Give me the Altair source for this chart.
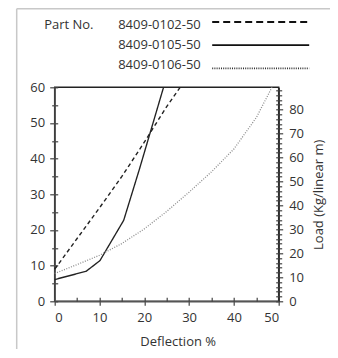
import altair as alt
import pandas as pd

# ---- data ----
parts = ["8409-0102-50", "8409-0105-50", "8409-0106-50"]
x_0102 = [0, 5, 10, 15, 20, 25, 28]
y_0102 = [9.0, 17.6, 26.2, 35.0, 44.6, 54.6, 60.0]
x_0105 = [0, 7.0, 10.1, 15.4, 18.9, 24.3]
y_0105 = [6.1, 8.4, 11.4, 22.7, 37.0, 60.0]
x_0106 = [0, 5, 10, 15, 20, 25, 30, 35, 40, 45, 48.5]
y_0106 = [7.8, 10.3, 12.9, 16.2, 20.3, 25.2, 30.6, 36.3, 42.7, 51.5, 60.0]

x_ticks = list(range(0, 51, 5))
left_ticks = list(range(0, 61, 5))
right_ticks = list(range(0, 90, 2))
kg_max = 89.3
legend_title = "Part No."
x_title = "Deflection %"
right_title = "Load (Kg/linear m)"

FONT = "Open Sans"
TXT = "#333333"
W, H = 224, 214

rows = []
for p, xs, ys in zip(parts, [x_0102, x_0105, x_0106], [y_0102, y_0105, y_0106]):
    for xv, yv in zip(xs, ys):
        rows.append({"part": p, "x": xv, "y": yv})
df = pd.DataFrame(rows)

xscale = alt.Scale(domain=[0, 50], nice=False, zero=False)
yscale = alt.Scale(domain=[0, 60], nice=False)
kgscale = alt.Scale(domain=[0, kg_max], nice=False)

dash_scale = alt.Scale(domain=parts, range=[[4, 3], [1, 0], [1, 1.5]])
col_scale = alt.Scale(domain=parts, range=["#222222", "#222222", "#8c8c8c"])
wid_scale = alt.Scale(domain=parts, range=[1.4, 1.3, 1.1])

lab10 = "datum.value % 10 === 0 ? datum.label : ''"
maj = "datum.value % 10 === 0"

base_axis = dict(labelFont=FONT, labelFontSize=13, labelColor=TXT, titleFont=FONT,
                 titleFontSize=13, titleFontWeight="normal", titleColor=TXT,
                 tickColor="#444444", tickWidth=1.2, grid=False)

lines = alt.Chart(df).mark_line().encode(
    x=alt.X("x:Q", scale=xscale, axis=alt.Axis(
        orient="bottom", values=x_ticks, labelExpr=lab10,
        tickSize={"condition": {"test": maj, "value": 4}, "value": 0},
        labelPadding=6, title=x_title, titleX=123, titleY=40,
        titleAlign="center", titleBaseline="middle",
        domainColor="#555555", domainWidth=1.5, **base_axis)),
    y=alt.Y("y:Q", scale=yscale, axis=alt.Axis(
        orient="left", values=left_ticks, labelExpr=lab10,
        tickSize={"condition": {"test": maj, "value": 5}, "value": 3},
        labelPadding=5, title=None,
        domainColor="#555555", domainWidth=1.5, **base_axis)),
    strokeDash=alt.StrokeDash("part:N", scale=dash_scale, legend=None),
    color=alt.Color("part:N", scale=col_scale, legend=None),
    strokeWidth=alt.StrokeWidth("part:N", scale=wid_scale, legend=None),
)

inner = alt.Chart(df).mark_line(opacity=0).encode(
    x=alt.X("x:Q", scale=xscale, axis=alt.Axis(
        orient="bottom", offset=-4, values=x_ticks, tickSize=4, labels=False,
        domain=False, title=None, **base_axis)),
    y=alt.Y("y:Q", scale=yscale, axis=alt.Axis(
        orient="left", offset=-3, values=left_ticks, tickSize=3, labels=False,
        domain=False, title=None, **base_axis)),
    detail="part:N",
)

right_out = alt.Chart(df).mark_rule(opacity=0).encode(
    y=alt.Y("y:Q", scale=kgscale, axis=alt.Axis(
        orient="right", values=right_ticks, labelExpr=lab10,
        tickSize={"condition": {"test": maj, "value": 4}, "value": 3},
        labelPadding=6, title=right_title, titleAngle=270,
        titleX=40, titleY=107, titleAlign="center", titleBaseline="middle",
        domainColor="#333333", domainWidth=1.5, **base_axis)),
)

right_in = alt.Chart(df).mark_rule(opacity=0).encode(
    y=alt.Y("y:Q", scale=kgscale, axis=alt.Axis(
        orient="right", offset=-3, values=right_ticks, tickSize=3, labels=False,
        domain=False, title=None, **base_axis)),
)

frame_df = pd.DataFrame({"k": [0]})
frame_top = alt.Chart(frame_df).mark_rule(color="#c8c8c8", strokeWidth=1.5).encode(
    x=alt.value(-38), x2=alt.value(290), y=alt.value(-78.5))
frame_left = alt.Chart(frame_df).mark_rule(color="#c8c8c8", strokeWidth=1.5).encode(
    x=alt.value(-38), y=alt.value(-78.5), y2=alt.value(280))

# ---- legend block (above the plot) ----
leg_df = pd.DataFrame({"part": parts})
leg_text = alt.Chart(leg_df).mark_text(align="left", baseline="middle", font=FONT,
                                       fontSize=13, color=TXT).encode(
    y=alt.Y("part:N", axis=None,
            scale=alt.Scale(type="point", domain=parts, range=[-62, -22.5], padding=0)),
    x=alt.value(63.5), text="part:N")
leg_title = alt.Chart(pd.DataFrame({"part": [parts[0]], "t": [legend_title]})).mark_text(
    align="left", baseline="middle", font=FONT, fontSize=13, color=TXT).encode(
    y=alt.Y("part:N", axis=None,
            scale=alt.Scale(type="point", domain=parts, range=[-62, -22.5], padding=0)),
    x=alt.value(-10.5), text="t:N")
leg_line = alt.Chart(leg_df).mark_rule().encode(
    y=alt.Y("part:N", axis=None,
            scale=alt.Scale(type="point", domain=parts, range=[-65.3, -19], padding=0)),
    x=alt.value(157.5), x2=alt.value(254.5),
    strokeDash=alt.StrokeDash("part:N", scale=alt.Scale(domain=parts, range=[[7, 4], [1, 0], [1, 1.2]]), legend=None),
    color=alt.Color("part:N", scale=alt.Scale(domain=parts, range=["#111111", "#111111", "#333333"]), legend=None),
    strokeWidth=alt.StrokeWidth("part:N", scale=alt.Scale(domain=parts, range=[2, 1.8, 1.1]), legend=None),
)

chart = alt.layer(
    frame_top, frame_left, lines, inner, right_out, right_in, leg_title, leg_text, leg_line
).resolve_scale(
    y="independent", strokeDash="independent", color="independent", strokeWidth="independent"
).resolve_axis(x="independent", y="independent").properties(
    width=W, height=H,
    autosize=alt.AutoSizeParams(type="none"),
    padding={"left": 46.7, "top": 79.3, "right": 51, "bottom": 48},
).configure_view(stroke="#222222", strokeWidth=1.5)

chart.save("out.html", embed_options={"renderer": "svg", "actions": False})
